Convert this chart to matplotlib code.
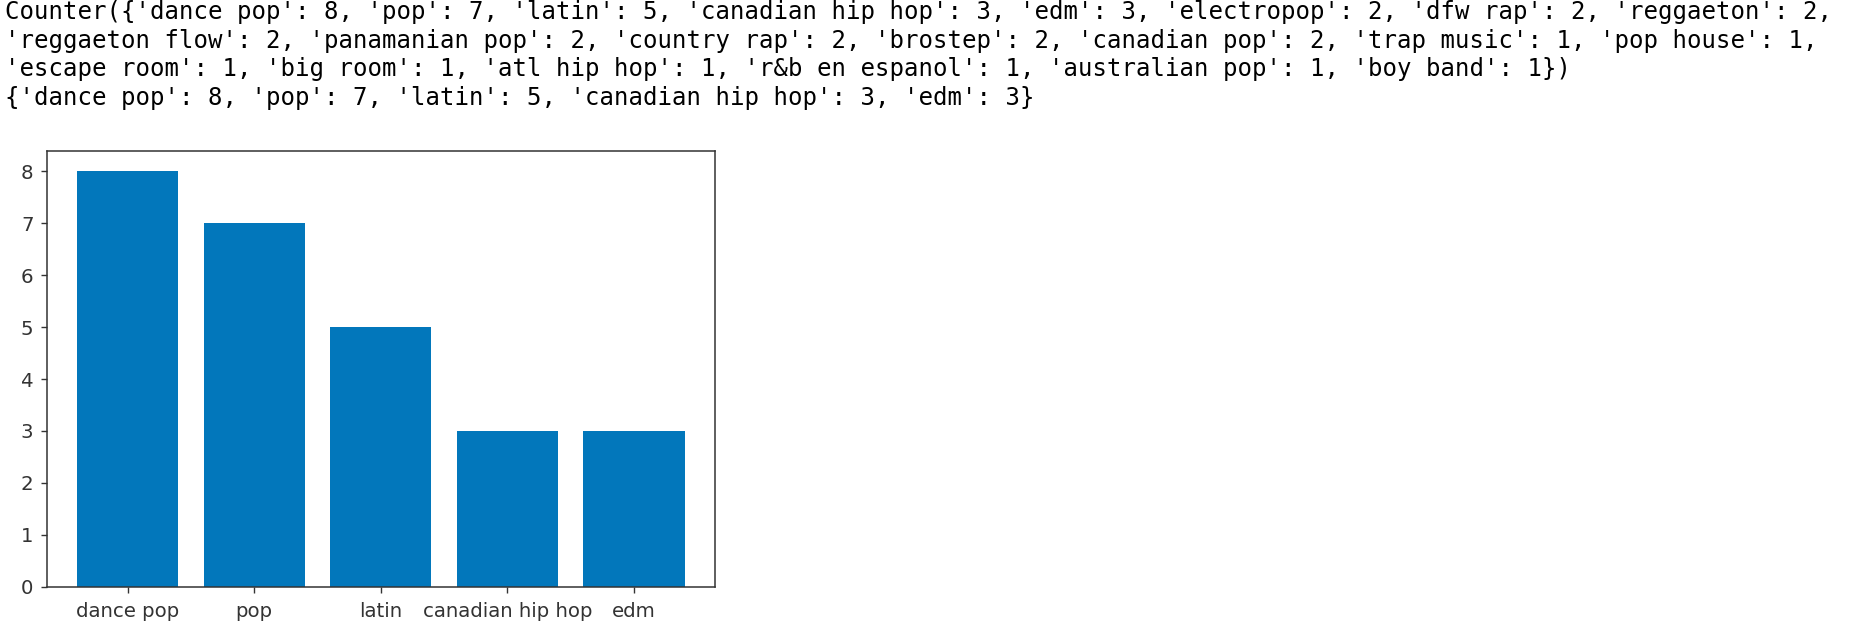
import matplotlib.pyplot as plt

# notebook printout above the chart
counter_lines = [
    "Counter({'dance pop': 8, 'pop': 7, 'latin': 5, 'canadian hip hop': 3, 'edm': 3, 'electropop': 2, 'dfw rap': 2, 'reggaeton': 2,",
    "'reggaeton flow': 2, 'panamanian pop': 2, 'country rap': 2, 'brostep': 2, 'canadian pop': 2, 'trap music': 1, 'pop house': 1,",
    "'escape room': 1, 'big room': 1, 'atl hip hop': 1, 'r&b en espanol': 1, 'australian pop': 1, 'boy band': 1})",
    "{'dance pop': 8, 'pop': 7, 'latin': 5, 'canadian hip hop': 3, 'edm': 3}",
]

# top 5 genres
genres = ["dance pop", "pop", "latin", "canadian hip hop", "edm"]
counts = [8, 7, 5, 3, 3]

W, H = 1856, 632
fig = plt.figure(figsize=(W / 100, H / 100), dpi=100)

for i, line in enumerate(counter_lines):
    y_px = 19.5 + i * 28.4
    fig.text(5 / W, 1 - y_px / H, line, family="DejaVu Sans Mono",
             fontsize=17.3, color="black", va="baseline", ha="left")

ax = fig.add_axes([46.7 / W, 1 - 586.7 / H, (715 - 46.7) / W, (586.7 - 150.7) / H])
ax.bar(genres, counts, color="#0277bb", width=0.8)

ax.set_yticks(range(0, 9))
for s in ax.spines.values():
    s.set_color("#333333")
    s.set_linewidth(1.1)
ax.tick_params(axis="both", colors="#333333", labelcolor="#333333",
               labelsize=14.2, length=4.5, width=1.0)
ax.tick_params(axis="y", pad=5.0)
ax.tick_params(axis="x", pad=6.5)

fig.savefig("out.png", dpi=100)
